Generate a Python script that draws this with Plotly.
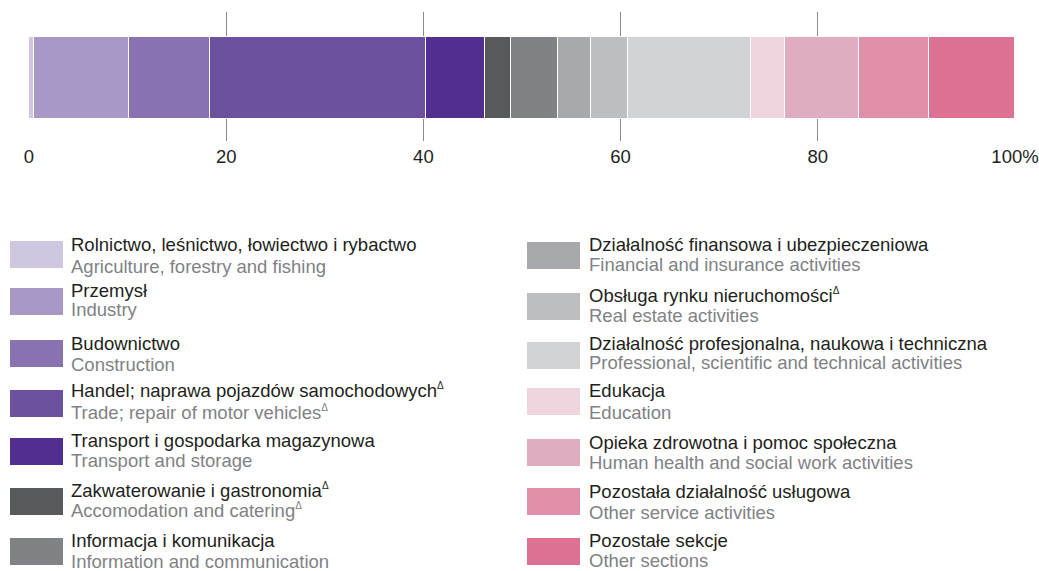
import plotly.graph_objects as go

# ---------------- data ----------------
sectors_pl = [
    "Rolnictwo, leśnictwo, łowiectwo i rybactwo",
    "Przemysł",
    "Budownictwo",
    "Handel; naprawa pojazdów samochodowych",
    "Transport i gospodarka magazynowa",
    "Zakwaterowanie i gastronomia",
    "Informacja i komunikacja",
    "Działalność finansowa i ubezpieczeniowa",
    "Obsługa rynku nieruchomości",
    "Działalność profesjonalna, naukowa i techniczna",
    "Edukacja",
    "Opieka zdrowotna i pomoc społeczna",
    "Pozostała działalność usługowa",
    "Pozostałe sekcje",
]
sectors_en = [
    "Agriculture, forestry and fishing",
    "Industry",
    "Construction",
    "Trade; repair of motor vehicles",
    "Transport and storage",
    "Accomodation and catering",
    "Information and communication",
    "Financial and insurance activities",
    "Real estate activities",
    "Professional, scientific and technical activities",
    "Education",
    "Human health and social work activities",
    "Other service activities",
    "Other sections",
]
delta_pl = [False, False, False, True, False, True, False, False, True, False, False, False, False, False]
delta_en = [False, False, False, True, False, True, False, False, False, False, False, False, False, False]
shares = [0.5, 9.6, 8.3, 21.9, 5.9, 2.7, 4.8, 3.3, 3.7, 12.5, 3.5, 7.5, 7.1, 8.7]
colors = ["#cfc6e0", "#a898c6", "#8872b0", "#6b51a0", "#522e91", "#58595b", "#808285",
          "#a7a9ac", "#bcbec0", "#d1d3d4", "#efd5de", "#e0adc0", "#e08fa8", "#dc7193"]
tick_vals = [0, 20, 40, 60, 80, 100]
tick_text = ["0", "20", "40", "60", "80", "100%"]

# ---------------- layout geometry (pixels) ----------------
W, H = 1039, 571
PL_L, PL_R, PL_T, PL_B = 29, 1015, 12, 141
FONT = "Liberation Sans, Arial, sans-serif"
FS = 18.5


def px_x(x):
    return (x - PL_L) / (PL_R - PL_L)


def px_y(y):
    return (PL_B - y) / (PL_B - PL_T)


fig = go.Figure()
for name, v, c in zip(sectors_en, shares, colors):
    fig.add_trace(go.Bar(
        x=[v], y=[-0.012], width=0.635, orientation="h", name=name,
        marker=dict(color=c, line=dict(color="white", width=1.3)),
        showlegend=False, hoverinfo="name+x",
    ))

# legend geometry
col_x_sw = [10, 527]
col_x_txt = [69, 587]
sw_w, sw_h = 53, 27
sw_tops = [241, 288, 340, 390, 438, 488, 538, 242, 293, 342, 388, 439, 488, 538]
pl_base = [250.7, 296.7, 349.3, 396, 446, 496, 546.7, 250.7, 301.7, 349.3, 396, 448.3, 497.3, 546.7]
en_base = [272, 315, 370, 418.3, 466, 516.7, 567, 270, 321.7, 368.3, 418.3, 468.3, 518.3, 566.7]

shapes = []
annotations = []
tri = "<sup><span style='font-size:10px'>Δ</span></sup>"
for i in range(len(sectors_pl)):
    col = 0 if i < 7 else 1
    t = sw_tops[i]
    shapes.append(dict(type="rect", xref="paper", yref="paper",
                       x0=px_x(col_x_sw[col]), x1=px_x(col_x_sw[col] + sw_w),
                       y0=px_y(t + sw_h), y1=px_y(t),
                       fillcolor=colors[i], line=dict(width=0), layer="above"))
    annotations.append(dict(
        xref="paper", yref="paper", x=px_x(col_x_txt[col]), y=px_y(pl_base[i] - 6),
        xanchor="left", yanchor="middle", showarrow=False,
        text=sectors_pl[i] + (tri if delta_pl[i] else ""),
        font=dict(family=FONT, size=FS, color="#231f20")))
    annotations.append(dict(
        xref="paper", yref="paper", x=px_x(col_x_txt[col]), y=px_y(en_base[i] - 6),
        xanchor="left", yanchor="middle", showarrow=False,
        text=sectors_en[i] + (tri if delta_en[i] else ""),
        font=dict(family=FONT, size=FS, color="#808285")))

fig.update_layout(
    width=W, height=H,
    barmode="stack", bargap=0,
    margin=dict(l=PL_L, r=W - PL_R, t=PL_T, b=H - PL_B, autoexpand=False),
    paper_bgcolor="white", plot_bgcolor="white",
    xaxis=dict(range=[0, 100], tickvals=tick_vals, ticktext=tick_text,
               showgrid=True, gridcolor="#8a8a8a", gridwidth=1.3,
               zeroline=False, showline=False, ticks="", ticklabelstandoff=2,
               tickfont=dict(family=FONT, size=FS, color="#231f20"),
               fixedrange=True),
    yaxis=dict(range=[-0.5, 0.5], visible=False, fixedrange=True),
    shapes=shapes, annotations=annotations,
    font=dict(family=FONT),
)

fig.write_html("out.html", config={"displayModeBar": False},
               post_script="document.body.style.margin='0';document.body.style.overflow='hidden';")
